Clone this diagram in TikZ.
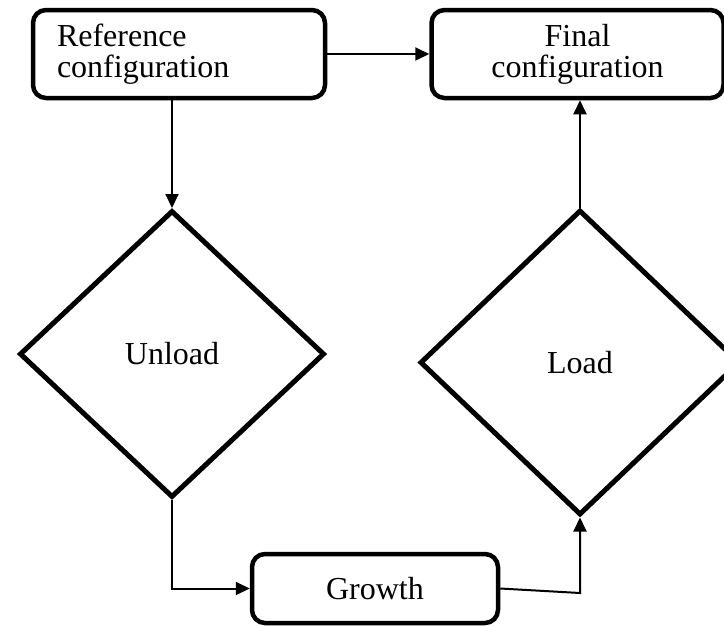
\documentclass[tikz,border=0pt]{standalone}
\usepackage{fontspec}
\setmainfont{Liberation Serif}
\usetikzlibrary{shapes.geometric,arrows.meta}

\begin{document}
\begin{tikzpicture}[x=1pt,y=-1pt,
        box/.style={shape=rectangle,draw=black,line width=4.5pt,rounded corners=13pt,
            inner xsep=24pt,minimum width=292pt,minimum height=88pt},
        dia/.style={shape=diamond,draw=black,line width=5pt,inner sep=0pt},
        flow/.style={line width=2pt,-{Triangle[length=14pt,width=13pt]}},
        font=\fontsize{32}{31}\selectfont]
        \useasboundingbox (0,0) rectangle (724,625);
        \clip (0,0) rectangle (724,625);

        \node[box,text width=244pt,align=left] (R) at (179,54) {Reference\\configuration};
        \node[box,text width=244pt,align=center] (F) at (577.5,54) {Final\\configuration};
        \node[dia,minimum width=305pt,minimum height=287pt] (U) at (172,354) {Unload};
        \node[dia,minimum width=320pt,minimum height=305pt] (L) at (580,362.5) {Load};
        \node[box,minimum width=246pt,minimum height=69pt] (G) at (375,588.5) {Growth};
        \coordinate (T) at (580,593);

        \path [flow](R) edge (F);
        \path [flow](U.north |- R.south) edge (U.north);
        \draw [flow](U.south) |- (G.west);
        \draw [flow](G.east) -- (T) -- (L.south);
        \path [flow](L.north) edge (L.north |- F.south);
    \end{tikzpicture}
\end{document}
